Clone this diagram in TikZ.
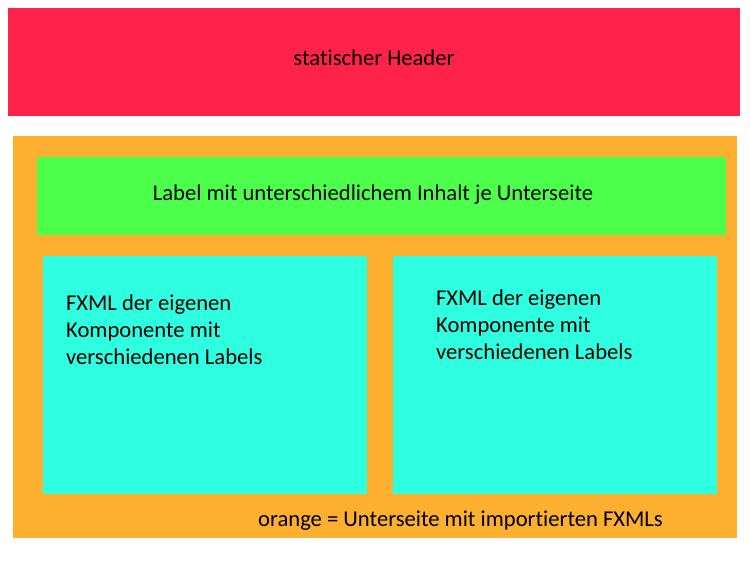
\documentclass[tikz,border=0pt]{standalone}
\usepackage{fontspec}
\setmainfont{Carlito}[Ligatures={NoCommon}]
\usetikzlibrary{positioning}
\definecolor{headerred}{RGB}{255,34,74}
\definecolor{pageorange}{RGB}{253,175,47}
\definecolor{labelgreen}{RGB}{75,255,75}
\definecolor{fxmlcyan}{RGB}{46,255,224}
\tikzset{
  boxtext/.style={inner sep=0pt, font=\fontsize{22.7}{27.1}\selectfont},
  fxmltext/.style={boxtext, align=left, anchor=north west}
}

\begin{document}
\begin{tikzpicture}[x=1bp, y=-1bp]
			%%%%% START %%%%%
			\useasboundingbox (0, 0) rectangle (750, 563);
			
			\fill[headerred] (8, 8) rectangle (740, 116);
			\node[boxtext] (header) at (374, 58) {statischer Header};
			
			\fill[pageorange] (13, 136) rectangle (737, 538);
			\fill[labelgreen] (37, 157) rectangle (726, 235);
			\node[boxtext] (label) at (373, 195) {Label mit unterschiedlichem Inhalt je Unterseite};
			
			\fill[fxmlcyan] (43, 256) rectangle (367, 494);
			\node[fxmltext] (fxmlleft) at (66, 295) {FXML der eigenen\\Komponente mit\\verschiedenen Labels};
			
			\fill[fxmlcyan] (393, 256) rectangle (717, 494);
			\node[fxmltext] (fxmlright) at (436, 290) {FXML der eigenen\\Komponente mit\\verschiedenen Labels};
			
			\node[boxtext, anchor=west] (legend) at (258, 521) {orange = Unterseite mit importierten FXMLs};
			%%%%% END %%%%%
		\end{tikzpicture}
\end{document}
